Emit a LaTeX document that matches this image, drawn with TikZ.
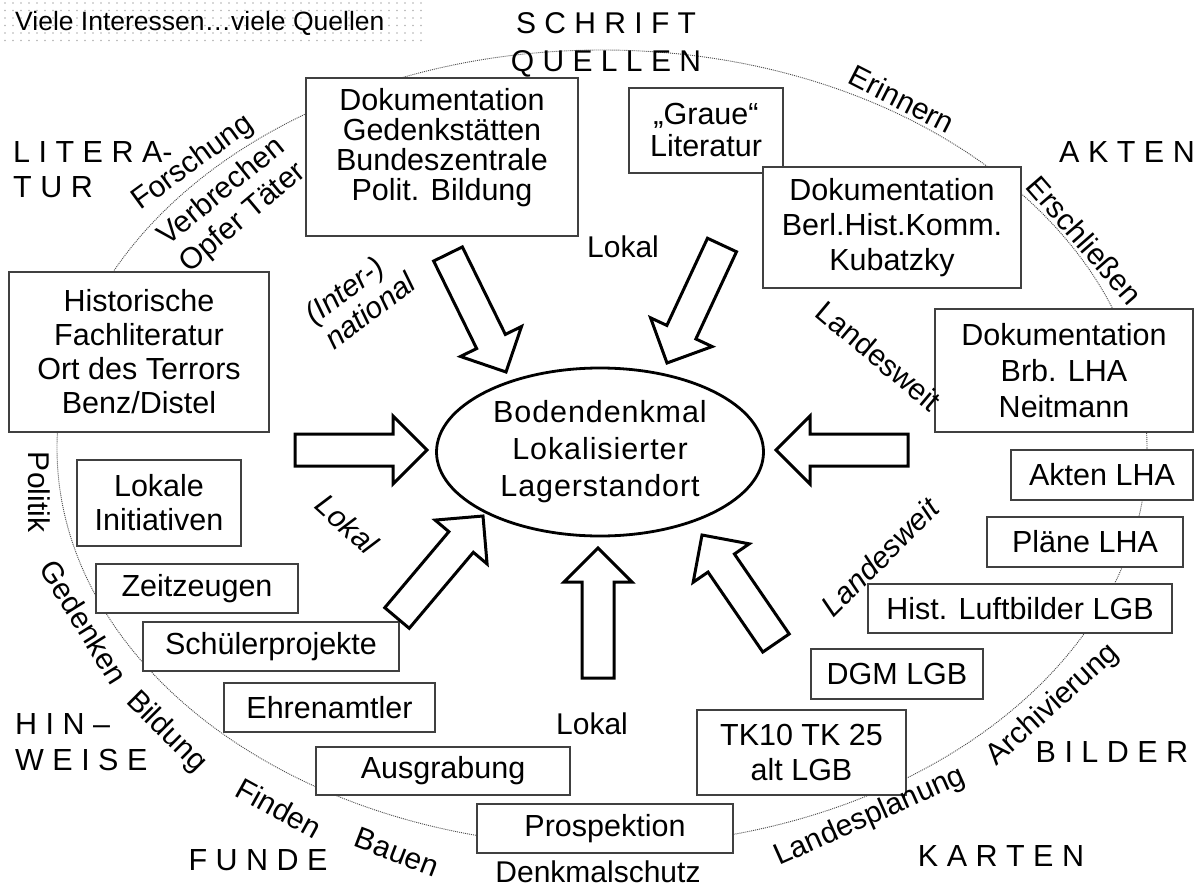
\documentclass[tikz,border=0pt]{standalone}
\usepackage{fontspec}
\setmainfont{Liberation Sans}
\newfontfamily\sperrfont[LetterSpace=3]{Liberation Sans}
\usetikzlibrary{calc,shapes.geometric}

\newcommand{\kastenschrift}[1]{\fontsize{30.5}{#1}\selectfont}
% Blockpfeil von #1 (Ende) nach #2 (Spitze)
\newcommand{\blockpfeil}[2]{%
	\coordinate (kopf) at ($(#2)!34pt!(#1)$);
	\draw[pfeil] ($(#1)!16pt!90:(#2)$) -- ($(kopf)!16pt!90:(#2)$) -- ($(kopf)!34pt!90:(#2)$) -- (#2) -- ($(kopf)!34pt!-90:(#2)$) -- ($(kopf)!16pt!-90:(#2)$) -- ($(#1)!16pt!-90:(#2)$) -- cycle;}

\begin{document}
\begin{tikzpicture}[x=1pt,y=1pt,yscale=-1,
	kasten/.style={draw=black!75, line width=1.3pt, fill=white, align=center, inner sep=0pt},
	pfeil/.style={draw=black, line width=3pt, fill=white},
	ring/.style={draw=black!70, line width=0.9pt, dash pattern=on 1pt off 1pt},
	wort/.style={inner sep=0pt, font=\fontsize{30}{32}\selectfont},
	wortkursiv/.style={inner sep=0pt, align=left, font=\fontsize{30}{32}\selectfont\itshape},
	gruppe/.style={inner sep=0pt, align=left, font=\fontsize{30.5}{36}\selectfont}]
				\useasboundingbox (0,0) rectangle (1202,888);
				\fill[white] (0,0) rectangle (1202,888);
				
				%Shape: Dots (Titelfeld)
				\foreach \i in {0,...,52} {\foreach \j in {0,...,5} {\fill[black!30] (5+8*\i,3+7.5*\j) circle (0.8);}}
				% Text Node
				\node[anchor=west, inner sep=0pt, font=\fontsize{26.5}{30}\selectfont] (titel) at (15,23) {Viele Interessen…viele Quellen};
				
				%Shape: Ellipse (Ring)
				\draw[ring] (602,448) ellipse [x radius=545, y radius=398];
				
				%Shape: Rectangle
				\node[kasten, minimum width=272pt, minimum height=158pt] (dokged) at (442,157) {};
				\node[align=center, inner sep=0pt, font=\kastenschrift{30}] (dokgedtext) at (442,148) {Dokumentation\\Gedenkstätten\\Bundeszentrale\\Polit. Bildung};
				\node[kasten, minimum width=154pt, minimum height=85pt, font=\kastenschrift{32}] (graue) at (706,130.5) {„Graue“\\Literatur};
				\node[kasten, minimum width=258pt, minimum height=121pt, font=\kastenschrift{35}] (dokberl) at (892,227.5) {Dokumentation\\Berl.Hist.Komm.\\Kubatzky};
				\node[kasten, minimum width=258pt, minimum height=123pt, font=\kastenschrift{36}] (dokbrb) at (1064,370.5) {Dokumentation\\Brb. LHA\\Neitmann};
				\node[kasten, minimum width=182pt, minimum height=50pt, font=\kastenschrift{32}] (aktenlha) at (1102,475) {Akten LHA};
				\node[kasten, minimum width=196pt, minimum height=50pt, font=\kastenschrift{32}] (plaene) at (1085,542) {Pläne LHA};
				\node[kasten, minimum width=304pt, minimum height=49pt, font=\kastenschrift{32}] (luftbild) at (1020,608.5) {Hist. Luftbilder LGB};
				\node[kasten, minimum width=172pt, minimum height=50pt, font=\kastenschrift{32}] (dgm) at (897,674) {DGM LGB};
				\node[kasten, minimum width=209pt, minimum height=85pt, font=\kastenschrift{35}] (tk) at (801.5,752.5) {TK10 TK 25\\alt LGB};
				\node[kasten, minimum width=256pt, minimum height=49pt, font=\kastenschrift{32}] (prosp) at (605,828.5) {Prospektion};
				\node[kasten, minimum width=254pt, minimum height=48pt, font=\kastenschrift{32}] (ausgr) at (443,771) {Ausgrabung};
				\node[kasten, minimum width=211pt, minimum height=49pt, font=\kastenschrift{32}] (ehren) at (329.5,707.5) {Ehrenamtler};
				\node[kasten, minimum width=256pt, minimum height=49pt, font=\kastenschrift{32}] (schueler) at (271,646.5) {Schülerprojekte};
				\node[kasten, minimum width=202pt, minimum height=49pt, font=\kastenschrift{32}] (zeitz) at (197,588.5) {Zeitzeugen};
				\node[kasten, minimum width=164pt, minimum height=86pt, font=\kastenschrift{34}] (lokini) at (159,503) {Lokale\\Initiativen};
				\node[kasten, minimum width=260pt, minimum height=160pt, font=\kastenschrift{34}] (hist) at (139,352) {Historische\\Fachliteratur\\Ort des Terrors\\Benz/Distel};
				
				%Shape: Ellipse (Mitte)
				\node[ellipse, draw, line width=2.8pt, minimum width=327pt, minimum height=168pt, inner sep=0pt, align=center, font=\sperrfont\fontsize{30.5}{37}\selectfont] (boden) at (600,452) {Bodendenkmal\\Lokalisierter\\Lagerstandort};
				
				%Shape: Block Arrows
				\coordinate (olA) at (448,254); \coordinate (olB) at (506,372);
				\coordinate (orA) at (722,245); \coordinate (orB) at (667,363);
				\coordinate (liA) at (295,450); \coordinate (liB) at (427,450);
				\coordinate (reA) at (908,450); \coordinate (reB) at (776,450);
				\coordinate (ulA) at (397,618); \coordinate (ulB) at (483,516);
				\coordinate (umA) at (598,678); \coordinate (umB) at (598,548);
				\coordinate (urA) at (776,643); \coordinate (urB) at (702,535);
				\blockpfeil{olA}{olB}
				\blockpfeil{orA}{orB}
				\blockpfeil{liA}{liB}
				\blockpfeil{reA}{reB}
				\blockpfeil{ulA}{ulB}
				\blockpfeil{umA}{umB}
				\blockpfeil{urA}{urB}
				
				% Text Node
				\node[gruppe, align=center, font=\fontsize{30}{38}\selectfont] (schrift) at (606,45) {S C H R I F T\\Q U E L L E N};
				% Text Node
				\node[gruppe, anchor=west, font=\fontsize{30.5}{35}\selectfont] (litera) at (13,170) {L I T E R A-\\T U R};
				% Text Node
				\node[gruppe] (akten) at (1127,152) {A K T E N};
				% Text Node
				\node[gruppe] (bilder) at (1112,752) {B I L D E R};
				% Text Node
				\node[gruppe] (karten) at (1001,856) {K A R T E N};
				% Text Node
				\node[gruppe] (funde) at (258,860) {F U N D E};
				% Text Node
				\node[gruppe, anchor=west] (hinweise) at (15,742) {H I N --\\W E I S E};
				
				% Text Node
				\node[wort, rotate=36] (forschung) at (193,163) {Forschung};
				\node[wort, rotate=39] (verbrechen) at (220,190) {Verbrechen};
				\node[wort, rotate=40] (opfer) at (243,218) {Opfer Täter};
				\node[wort, rotate=-27] (erinnern) at (902,99) {Erinnern};
				\node[wort, rotate=-49] (erschliessen) at (1085,240) {Erschließen};
				\node[wort, rotate=-40] (landesweitoben) at (879,356) {Landesweit};
				\node[wortkursiv, rotate=45] (landesweitunten) at (880,557) {Landesweit};
				\node[wortkursiv, rotate=37] (international) at (360,298) {(Inter-)\\national};
				\node[wortkursiv, rotate=-42] (lokallinks) at (347,524) {Lokal};
				\node[wort] (lokaloben) at (623,247) {Lokal};
				\node[wort] (lokalunten) at (592,724) {Lokal};
				\node[wort] (denkmal) at (598,872) {Denkmalschutz};
				\node[wort, rotate=-90] (politik) at (39,492) {Politik};
				\node[wort, rotate=-58] (gedenken) at (84,622) {Gedenken};
				\node[wort, rotate=-45] (bildung) at (166,732) {Bildung};
				\node[wort, rotate=-29] (finden) at (279,808) {Finden};
				\node[wort, rotate=-21] (bauen) at (397,852) {Bauen};
				\node[wort, rotate=24] (landesplanung) at (870,817) {Landesplanung};
				\node[wort, rotate=42] (archivierung) at (1053,705) {Archivierung};
				
\end{tikzpicture}
\end{document}
